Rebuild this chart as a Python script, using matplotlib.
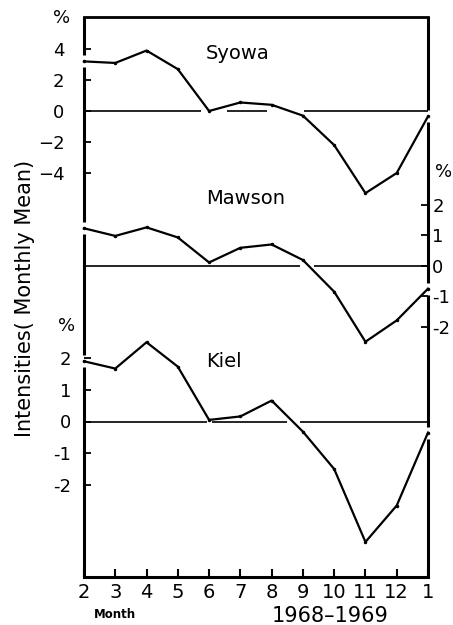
import matplotlib.pyplot as plt
import numpy as np

# months Feb 1968 .. Jan 1969
months = ["2", "3", "4", "5", "6", "7", "8", "9", "10", "11", "12", "1"]

# cosmic ray intensity, % deviation from monthly mean
syowa = [3.2, 3.1, 3.9, 2.7, 0.0, 0.55, 0.4, -0.3, -2.2, -5.3, -4.0, -0.35]
mawson = [1.22, 0.97, 1.25, 0.92, 0.1, 0.58, 0.69, 0.18, -0.86, -2.5, -1.8, -0.76]
kiel = [1.9, 1.67, 2.5, 1.73, 0.05, 0.16, 0.66, -0.32, -1.5, -3.8, -2.65, -0.35]

syowa_ticks = [4, 2, 0, -2, -4]
syowa_labels = ["4", "2", "0", "\u22122", "\u22124"]
mawson_ticks = [2, 1, 0, -1, -2]
mawson_labels = ["2", "1", "0", "-1", "-2"]
kiel_ticks = [2, 1, 0, -1, -2]
kiel_labels = ["2", "1", "0", "-1", "-2"]

# zero line pieces (month index), broken where the curve touches it
syowa_zero = [(0, 3.73), (4.57, 5.85), (7.04, 11)]
mawson_zero = [(0, 6.92), (7.34, 11)]
kiel_zero = [(0, 3.94), (4.1, 6.5), (6.9, 11)]

W, H = 453, 625
TOP, BOT, LEFT, RIGHT = 17, 577, 84, 428
rect = [LEFT / W, (H - BOT) / H, (RIGHT - LEFT) / W, (BOT - TOP) / H]

fig = plt.figure(figsize=(W / 100, H / 100), dpi=100)
ax = fig.add_axes(rect)
x = np.arange(len(months))
ax.set_xlim(0, 11)
ax.set_ylim(0, 1)
ax.set_yticks([])
ax.set_xticks(x, months)
ax.tick_params(axis='x', direction='in', length=6, width=1.5, pad=4, labelsize=14)
ax.spines['top'].set_linewidth(2)
ax.spines['bottom'].set_linewidth(2.2)
ax.spines['left'].set_visible(False)
ax.spines['right'].set_visible(False)


def station_axes(zero_px, px_unit):
    a = fig.add_axes(rect)
    a.patch.set_visible(False)
    a.set_xlim(0, 11)
    a.set_ylim(-(BOT - zero_px) / px_unit, (zero_px - TOP) / px_unit)
    a.set_xticks([])
    for s in a.spines.values():
        s.set_visible(False)
    return a


ax_s = station_axes(111, 15.5)
ax_m = station_axes(265.5, 30.5)
ax_k = station_axes(421.5, 31.7)

stations = [
    (ax_s, syowa, syowa_zero, syowa_ticks, syowa_labels, "Syowa", 6, 3.7, 'left', 14, -0.065),
    (ax_m, mawson, mawson_zero, mawson_ticks, mawson_labels, "Mawson", 3.05, 2.2, 'right', 3, 1.045),
    (ax_k, kiel, kiel_zero, kiel_ticks, kiel_labels, "Kiel", 3.0, 1.88, 'left', 9, -0.05),
]

for a, vals, zero, ticks, labels, name, pct_y, name_y, side, pad, pct_x in stations:
    a.plot(x, vals, color='k', lw=1.6, marker='.', ms=3, clip_on=False)
    for x0, x1 in zero:
        a.plot([x0, x1], [0, 0], color='k', lw=1.2, solid_capstyle='butt')
    a.set_yticks(ticks, labels)
    if side == 'right':
        a.yaxis.tick_right()
    a.tick_params(axis='y', direction='in', length=5, width=1.3, pad=pad, labelsize=13)
    a.text(pct_x, pct_y, "%", transform=a.get_yaxis_transform(),
           ha='center', va='center', fontsize=13)
    a.text(3.9, name_y, name, ha='left', va='center', fontsize=14)

# left / right frame lines, with small breaks where the curves end on them
half = 6 / (BOT - TOP)


def frame_side(xpos, idx, lw):
    gaps = []
    for a, vals, *_ in stations:
        disp = a.transData.transform((x[idx], vals[idx]))
        gaps.append(ax.transAxes.inverted().transform(disp)[1])
    gaps = sorted(gaps, reverse=True)
    y0 = 1.0
    for g in gaps:
        ax.plot([xpos, xpos], [y0, g + half], color='k', lw=lw,
                transform=ax.transAxes, clip_on=False, solid_capstyle='butt')
        y0 = g - half
    ax.plot([xpos, xpos], [y0, 0.0], color='k', lw=lw,
            transform=ax.transAxes, clip_on=False, solid_capstyle='butt')


frame_side(0.0, 0, 2.2)
frame_side(1.0, -1, 2.2)

fig.text(25 / W, 1 - 298 / H, "Intensities( Monthly Mean)", rotation=90,
         ha='center', va='center', fontsize=15)
fig.text(115 / W, 1 - 614 / H, "Month", ha='center', va='center',
         fontsize=8.5, fontweight='bold')
fig.text(330 / W, 1 - 616 / H, "1968\u20131969", ha='center', va='center',
         fontsize=15)

fig.savefig("out.png", dpi=100)
